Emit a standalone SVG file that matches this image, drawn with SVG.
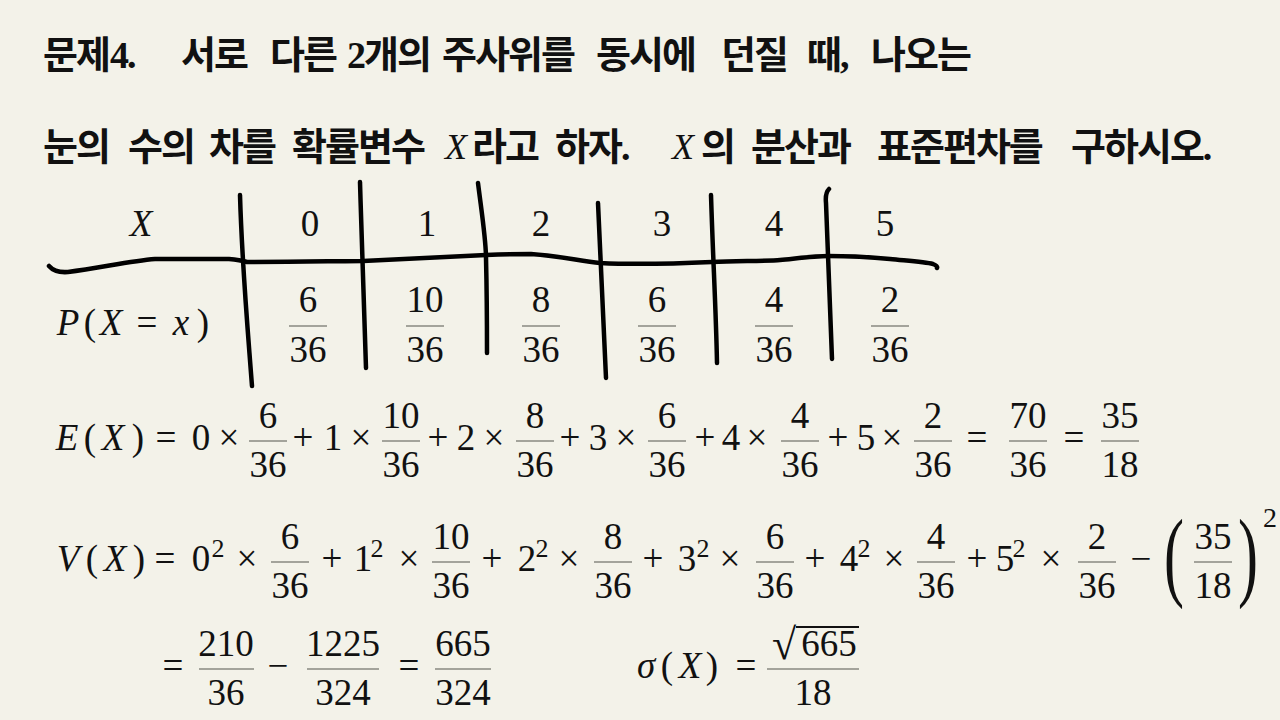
<svg xmlns="http://www.w3.org/2000/svg" width="1280" height="720" viewBox="0 0 1280 720">
<style>
.t{font-family:"Liberation Serif","Noto Sans CJK KR",sans-serif;font-size:38px;letter-spacing:-2px;font-weight:bold;fill:#111}
.ti{font-family:"Liberation Serif",serif;font-size:36px;font-style:italic;fill:#111}
.m{font-family:"Liberation Serif","Times New Roman",serif;font-size:37px;fill:#111;text-anchor:middle}
.i{font-style:italic}
.bar{fill:#a3a39b}
.hand{fill:none;stroke:#000;stroke-width:4.5;stroke-linecap:round;stroke-linejoin:round}
</style>
<rect width="1280" height="720" fill="#f3f2e9"/>
<g id="title">
<text class="t" x="43" y="68">문제</text><text class="t" x="110" y="68">4.</text>
<text class="t" x="181" y="68">서로</text>
<text class="t" x="270" y="68">다른</text>
<text class="t" x="347" y="68">2개의</text>
<text class="t" x="442" y="68">주사위를</text>
<text class="t" x="596" y="68">동시에</text>
<text class="t" x="721" y="68">던질</text>
<text class="t" x="807" y="68">때,</text>
<text class="t" x="871" y="68">나오는</text>
<text class="t" x="43" y="160">눈의</text>
<text class="t" x="128" y="160">수의</text>
<text class="t" x="209" y="160">차를</text>
<text class="t" x="292" y="160">확률변수</text>
<text class="ti" x="445" y="159">X</text><text class="t" x="472" y="160">라고</text>
<text class="t" x="555" y="160">하자.</text>
<text class="ti" x="672" y="159">X</text><text class="t" x="701" y="160">의</text>
<text class="t" x="751" y="160">분산과</text>
<text class="t" x="877" y="160">표준편차를</text>
<text class="t" x="1071" y="160">구하시오.</text>
</g>
<g id="table-lines">
<path class="hand" d="M49,266 Q55,273 68,272 C100,268 130,261 155,259 L229,259 Q240,260 247,262 C300,262 340,261 363,261 C420,258 460,256 486,255 C510,254 525,254 531,254 C560,256 580,261 600,263 C640,265 690,263 712,262 C740,261 770,261 780,260 C800,258 815,256 828,256 C850,256 870,257 890,259 C910,261 925,262 933,264 Q938,266 937,268"/>
<path class="hand" d="M240,195 C242,265 247,320 252,386"/>
<path class="hand" d="M360,182 C362,250 364,320 366,368"/>
<path class="hand" d="M478,183 C482,215 486,240 486,258 C487,300 487,330 487,353"/>
<path class="hand" d="M598,203 C601,270 604,330 606,378"/>
<path class="hand" d="M711,195 C713,260 716,310 717,363"/>
<path class="hand" d="M829,189 Q825,193 826,203 C828,260 830,310 832,359"/>
</g>
<g id="table-header">
<text class="m i" x="141" y="236">X</text>
<text class="m" x="310" y="236">0</text>
<text class="m" x="427" y="236">1</text>
<text class="m" x="541" y="236">2</text>
<text class="m" x="662" y="236">3</text>
<text class="m" x="774" y="236">4</text>
<text class="m" x="885" y="236">5</text>
</g>
<g id="table-prob">
<text class="m i" x="68" y="335">P</text>
<text class="m" x="90" y="335">(</text>
<text class="m i" x="111" y="335">X</text>
<text class="m" x="147" y="335">=</text>
<text class="m i" x="181" y="335">x</text>
<text class="m" x="203" y="335">)</text>
<rect class="bar" x="289" y="325" width="38" height="2"/><text class="m" x="308" y="312">6</text><text class="m" x="308" y="362">36</text>
<rect class="bar" x="406" y="325" width="38" height="2"/><text class="m" x="425" y="312">10</text><text class="m" x="425" y="362">36</text>
<rect class="bar" x="522" y="325" width="38" height="2"/><text class="m" x="541" y="312">8</text><text class="m" x="541" y="362">36</text>
<rect class="bar" x="638" y="325" width="38" height="2"/><text class="m" x="657" y="312">6</text><text class="m" x="657" y="362">36</text>
<rect class="bar" x="755" y="325" width="38" height="2"/><text class="m" x="774" y="312">4</text><text class="m" x="774" y="362">36</text>
<rect class="bar" x="871" y="325" width="38" height="2"/><text class="m" x="890" y="312">2</text><text class="m" x="890" y="362">36</text>
</g>
<g id="expectation">
<text class="m i" x="67" y="450">E</text>
<text class="m" x="90" y="450">(</text>
<text class="m i" x="113" y="450">X</text>
<text class="m" x="138" y="450">)</text>
<text class="m" x="166" y="450">=</text>
<text class="m" x="201" y="450">0</text><text class="m" x="229" y="450">×</text>
<rect class="bar" x="249" y="440" width="38" height="2"/><text class="m" x="268" y="428">6</text><text class="m" x="268" y="477">36</text>
<text class="m" x="303" y="450">+</text><text class="m" x="333" y="450">1</text><text class="m" x="361" y="450">×</text>
<rect class="bar" x="382" y="440" width="38" height="2"/><text class="m" x="401" y="428">10</text><text class="m" x="401" y="477">36</text>
<text class="m" x="438" y="450">+</text><text class="m" x="466" y="450">2</text><text class="m" x="494" y="450">×</text>
<rect class="bar" x="516" y="440" width="38" height="2"/><text class="m" x="535" y="428">8</text><text class="m" x="535" y="477">36</text>
<text class="m" x="570" y="450">+</text><text class="m" x="598" y="450">3</text><text class="m" x="626" y="450">×</text>
<rect class="bar" x="648" y="440" width="38" height="2"/><text class="m" x="667" y="428">6</text><text class="m" x="667" y="477">36</text>
<text class="m" x="705" y="450">+</text><text class="m" x="731" y="450">4</text><text class="m" x="757" y="450">×</text>
<rect class="bar" x="781" y="440" width="38" height="2"/><text class="m" x="800" y="428">4</text><text class="m" x="800" y="477">36</text>
<text class="m" x="838" y="450">+</text><text class="m" x="866" y="450">5</text><text class="m" x="892" y="450">×</text>
<rect class="bar" x="914" y="440" width="38" height="2"/><text class="m" x="933" y="428">2</text><text class="m" x="933" y="477">36</text>
<text class="m" x="977" y="450">=</text>
<rect class="bar" x="1009" y="440" width="38" height="2"/><text class="m" x="1028" y="428">70</text><text class="m" x="1028" y="477">36</text>
<text class="m" x="1074" y="450">=</text>
<rect class="bar" x="1101" y="440" width="38" height="2"/><text class="m" x="1120" y="428">35</text><text class="m" x="1120" y="477">18</text>
</g>
<g id="variance">
<text class="m i" x="68" y="571">V</text>
<text class="m" x="92" y="571">(</text>
<text class="m i" x="115" y="571">X</text>
<text class="m" x="139" y="571">)</text>
<text class="m" x="165" y="571">=</text>
<text class="m" x="201" y="571">0</text><text class="m" style="font-size:26px" x="218" y="557">2</text><text class="m" x="247" y="571">×</text>
<rect class="bar" x="271" y="561" width="38" height="2"/><text class="m" x="290" y="549">6</text><text class="m" x="290" y="598">36</text>
<text class="m" x="332" y="571">+</text><text class="m" x="363" y="571">1</text><text class="m" style="font-size:26px" x="377" y="557">2</text><text class="m" x="409" y="571">×</text>
<rect class="bar" x="432" y="561" width="38" height="2"/><text class="m" x="451" y="549">10</text><text class="m" x="451" y="598">36</text>
<text class="m" x="492" y="571">+</text><text class="m" x="527" y="571">2</text><text class="m" style="font-size:26px" x="542" y="557">2</text><text class="m" x="569" y="571">×</text>
<rect class="bar" x="594" y="561" width="38" height="2"/><text class="m" x="613" y="549">8</text><text class="m" x="613" y="598">36</text>
<text class="m" x="653" y="571">+</text><text class="m" x="687" y="571">3</text><text class="m" style="font-size:26px" x="703" y="557">2</text><text class="m" x="730" y="571">×</text>
<rect class="bar" x="756" y="561" width="38" height="2"/><text class="m" x="775" y="549">6</text><text class="m" x="775" y="598">36</text>
<text class="m" x="815" y="571">+</text><text class="m" x="849" y="571">4</text><text class="m" style="font-size:26px" x="864" y="557">2</text><text class="m" x="894" y="571">×</text>
<rect class="bar" x="917" y="561" width="38" height="2"/><text class="m" x="936" y="549">4</text><text class="m" x="936" y="598">36</text>
<text class="m" x="977" y="571">+</text><text class="m" x="1005" y="571">5</text><text class="m" style="font-size:26px" x="1019" y="557">2</text><text class="m" x="1051" y="571">×</text>
<rect class="bar" x="1078" y="561" width="38" height="2"/><text class="m" x="1097" y="549">2</text><text class="m" x="1097" y="598">36</text>
<text class="m" x="1141" y="571">−</text>
<text class="m" style="font-size:100px" transform="translate(1174,588) scale(0.6,1)">(</text>
<rect class="bar" x="1194" y="561" width="38" height="2"/><text class="m" x="1213" y="549">35</text><text class="m" x="1213" y="598">18</text>
<text class="m" style="font-size:100px" transform="translate(1248,588) scale(0.6,1)">)</text>
<text class="m" style="font-size:28px" x="1270" y="527">2</text>
</g>
<g id="variance-result">
<text class="m" x="173" y="678">=</text>
<rect class="bar" x="199" y="668" width="55" height="2"/><text class="m" x="226" y="656">210</text><text class="m" x="226" y="705">36</text>
<text class="m" x="278" y="678">−</text>
<rect class="bar" x="307" y="668" width="72" height="2"/><text class="m" x="343" y="656">1225</text><text class="m" x="343" y="705">324</text>
<text class="m" x="409" y="678">=</text>
<rect class="bar" x="435" y="668" width="56" height="2"/><text class="m" x="463" y="656">665</text><text class="m" x="463" y="705">324</text>
</g>
<g id="std-dev">
<text class="m i" x="646" y="678">σ</text>
<text class="m" x="667" y="678">(</text>
<text class="m i" x="690" y="678">X</text>
<text class="m" x="712" y="678">)</text>
<text class="m" x="746" y="678">=</text>
<rect class="bar" x="767" y="668" width="92" height="2"/>
<text class="m" style="font-size:44px" x="784" y="659">√</text>
<rect x="796" y="626" width="63" height="2" fill="#111"/>
<text class="m" x="829" y="656">665</text>
<text class="m" x="813" y="705">18</text>
</g>
</svg>
